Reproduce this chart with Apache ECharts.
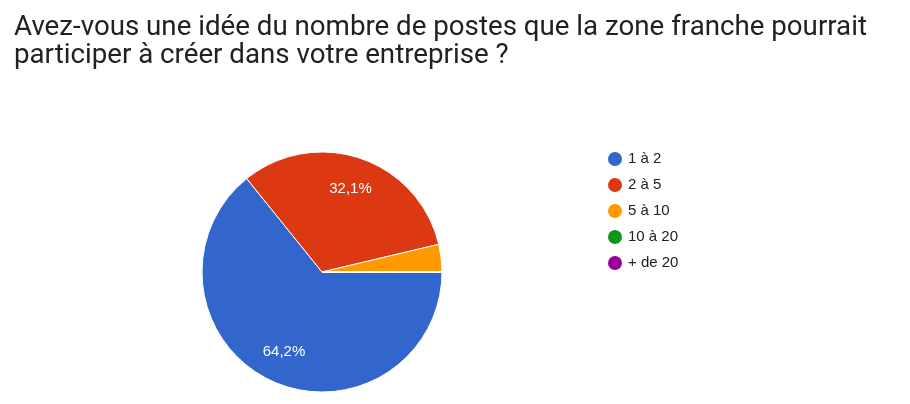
<!DOCTYPE html>
<html>
<head>
<meta charset="utf-8">
<script src="https://cdn.jsdelivr.net/npm/echarts@6/dist/echarts.min.js"></script>
<style>
  html, body { margin: 0; padding: 0; background: #fff; }
  #chart { width: 910px; height: 404px; }
</style>
</head>
<body>
<div id="chart"></div>
<script>
const titleText = "Avez-vous une idée du nombre de postes que la zone franche pourrait\nparticiper à créer dans votre entreprise ?";
const categories = ["1 à 2", "2 à 5", "5 à 10", "10 à 20", "+ de 20"];
const values = [64.2, 32.1, 3.7, 0, 0];
const valueLabels = ["64,2%", "32,1%", "", "", ""];
const colors = ["#3366CC", "#DC3912", "#FF9900", "#109618", "#990099"];

const chart = echarts.init(document.getElementById('chart'), null, { renderer: 'canvas' });

const pieData = categories.map((c, i) => ({ name: c, value: values[i] }));

chart.setOption({
  backgroundColor: '#ffffff',
  color: colors,
  animation: false,
  title: {
    text: titleText,
    left: 9,
    top: 9,
    textStyle: {
      fontFamily: 'Roboto',
      fontSize: 27.7,
      fontWeight: 'normal',
      color: '#212121',
      lineHeight: 28
    }
  },
  legend: {
    orient: 'vertical',
    left: 606,
    top: 150,
    padding: 0,
    icon: 'circle',
    itemWidth: 16,
    itemHeight: 16,
    itemGap: 8,
    selectedMode: false,
    data: categories,
    textStyle: { fontFamily: 'Arial, Liberation Sans', fontSize: 15, color: '#222' }
  },
  series: [
    {
      type: 'pie',
      center: [322, 272],
      radius: [0, 120],
      startAngle: 0,
      clockwise: true,
      silent: true,
      stillShowZeroSum: false,
      itemStyle: { borderColor: '#ffffff', borderWidth: 1 },
      label: { show: false },
      labelLine: { show: false },
      data: pieData
    },
    {
      type: 'pie',
      center: [322, 272],
      radius: [50, 120],
      startAngle: 0,
      clockwise: true,
      silent: true,
      legendHoverLink: false,
      itemStyle: { color: 'rgba(0,0,0,0)', borderWidth: 0 },
      label: {
        show: true,
        position: 'inside',
        formatter: p => valueLabels[p.dataIndex],
        color: '#ffffff',
        fontFamily: 'Arial, Liberation Sans',
        fontSize: 15
      },
      labelLine: { show: false },
      data: categories.map((c, i) => ({ name: c + ' ', value: values[i] }))
    }
  ]
});
</script>
</body>
</html>
